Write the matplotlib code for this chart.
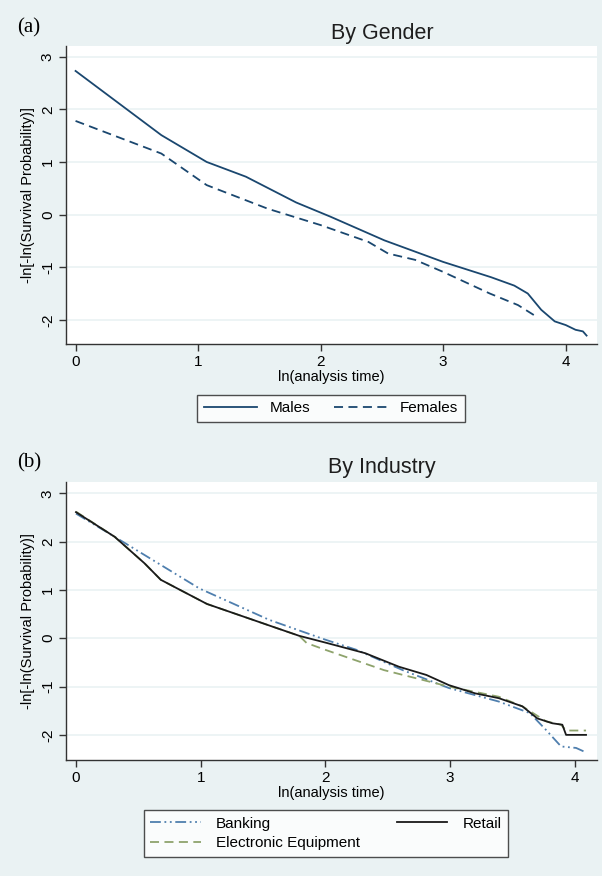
import matplotlib
matplotlib.use("Agg")
import matplotlib.pyplot as plt
from matplotlib.lines import Line2D

# ---- data ----
males_x = [0.0, 0.70, 1.07, 1.39, 1.80, 2.08, 2.52, 3.0, 3.39, 3.58, 3.69, 3.80, 3.91, 4.0, 4.08, 4.14, 4.17]
males_y = [2.73, 1.51, 1.0, 0.72, 0.23, -0.04, -0.49, -0.90, -1.19, -1.35, -1.50, -1.81, -2.03, -2.10, -2.19, -2.22, -2.30]
females_x = [0.0, 0.70, 1.07, 1.57, 2.0, 2.39, 2.55, 2.77, 3.0, 3.38, 3.61, 3.74]
females_y = [1.78, 1.16, 0.56, 0.11, -0.20, -0.52, -0.74, -0.86, -1.09, -1.50, -1.72, -1.91]

bank_x = [0.0, 0.31, 0.99, 1.55, 2.0, 2.25, 2.62, 2.99, 3.39, 3.64, 3.77, 3.89, 4.01, 4.07]
bank_y = [2.58, 2.10, 1.03, 0.38, -0.03, -0.24, -0.66, -1.03, -1.31, -1.55, -1.90, -2.24, -2.27, -2.34]
elec_x = [0.0, 0.31, 0.55, 0.68, 0.85, 1.05, 1.61, 1.79, 1.85, 2.0, 2.47, 2.99, 3.39, 3.58, 3.77, 3.89, 3.93, 4.09]
elec_y = [2.62, 2.10, 1.55, 1.21, 0.98, 0.71, 0.21, 0.05, -0.10, -0.24, -0.66, -1.0, -1.21, -1.41, -1.72, -1.79, -1.91, -1.91]
retail_x = [0.0, 0.31, 0.55, 0.68, 0.85, 1.05, 1.61, 1.79, 2.0, 2.32, 2.59, 2.81, 2.99, 3.2, 3.39, 3.58, 3.70, 3.82, 3.90, 3.93, 4.09]
retail_y = [2.61, 2.10, 1.55, 1.21, 0.98, 0.71, 0.21, 0.05, -0.09, -0.31, -0.59, -0.76, -0.97, -1.14, -1.24, -1.41, -1.66, -1.76, -1.79, -2.0, -2.0]

xticks = [0, 1, 2, 3, 4]
yticks = [-2, -1, 0, 1, 2, 3]

bg = "#eaf2f3"
navy = "#1a476f"
plt.rcParams["font.family"] = ["Liberation Sans", "DejaVu Sans"]
plt.rcParams["axes.unicode_minus"] = False

fig = plt.figure(figsize=(6.02, 8.76), dpi=100, facecolor=bg)
W, H = 602.0, 876.0


def make_ax(left, right, top, bottom):
    return fig.add_axes([left / W, 1 - bottom / H, (right - left) / W, (bottom - top) / H])


def style(ax, xlim, ylim):
    ax.set_facecolor("white")
    ax.set_xlim(*xlim)
    ax.set_ylim(*ylim)
    ax.set_xticks(xticks)
    ax.set_yticks(yticks)
    for s in ["top", "right"]:
        ax.spines[s].set_visible(False)
    for s in ["left", "bottom"]:
        ax.spines[s].set_color("#333333")
        ax.spines[s].set_linewidth(1.0)
    ax.tick_params(direction="out", length=5, width=1, color="#333333", labelsize=11, pad=3)
    for lab in ax.get_yticklabels():
        lab.set_rotation(90)
        lab.set_va("center")
    ax.grid(axis="y", color=bg, linewidth=1.2)
    ax.set_axisbelow(True)
    ax.set_xlabel("ln(analysis time)", fontsize=10.5, labelpad=1)
    ax.set_ylabel("-ln[-ln(Survival Probability)]", fontsize=10.5, labelpad=4)


# ---- (a) by gender ----
ax1 = make_ax(66, 597, 45.7, 344)
style(ax1, (-0.078, 4.255), (-2.46, 3.21))
ax1.plot(males_x, males_y, color=navy, lw=1.3, label="Males")
ax1.plot(females_x, females_y, color=navy, lw=1.3, ls=(0, (5, 3)), label="Females")
fig.text(382 / W, 1 - 33 / H, "By Gender", fontsize=15.5, ha="center", va="center", color="#1e1e1e")
fig.text(17 / W, 1 - 28 / H, "(a)", fontsize=15, family="Liberation Serif", ha="left", va="center")
leg1 = fig.legend(handles=[Line2D([], [], color=navy, lw=1.3),
                           Line2D([], [], color=navy, lw=1.3, ls=(0, (5, 3)))],
                  labels=["Males", "Females"], ncol=2, loc="center",
                  bbox_to_anchor=(331 / W, 1 - 408.5 / H), fontsize=11,
                  frameon=True, fancybox=False, edgecolor="#222222",
                  handlelength=3.5, handletextpad=0.8, columnspacing=1.6, borderpad=0.45)
leg1.get_frame().set_linewidth(1.0)

# ---- (b) by industry ----
ax2 = make_ax(66, 597, 481.7, 760)
style(ax2, (-0.08, 4.178), (-2.52, 3.24))
bank_c = "#4f7fae"
elec_c = "#8ea36c"
bank_ls = (0, (6, 2, 1, 2, 1, 2))
ax2.plot(bank_x, bank_y, color=bank_c, lw=1.3, ls=bank_ls, label="Banking")
ax2.plot(elec_x, elec_y, color=elec_c, lw=1.3, ls=(0, (5, 3)), label="Electronic Equipment")
ax2.plot(retail_x, retail_y, color="#1a1a1a", lw=1.3, label="Retail")
fig.text(382 / W, 1 - 468 / H, "By Industry", fontsize=15.5, ha="center", va="center", color="#1e1e1e")
fig.text(17 / W, 1 - 463 / H, "(b)", fontsize=15, family="Liberation Serif", ha="left", va="center")
leg2 = fig.legend(handles=[Line2D([], [], color=bank_c, lw=1.3, ls=bank_ls),
                           Line2D([], [], color=elec_c, lw=1.3, ls=(0, (5, 3))),
                           Line2D([], [], color="#1a1a1a", lw=1.3)],
                  labels=["Banking", "Electronic Equipment", "Retail"], ncol=2, loc="center",
                  bbox_to_anchor=(326 / W, 1 - 833.5 / H), fontsize=11,
                  frameon=True, fancybox=False, edgecolor="#222222",
                  handlelength=3.3, handletextpad=1.0, columnspacing=2.4,
                  borderpad=0.45, labelspacing=0.35)
leg2.get_frame().set_linewidth(1.0)

fig.savefig("out.png", dpi=100, facecolor=bg)
